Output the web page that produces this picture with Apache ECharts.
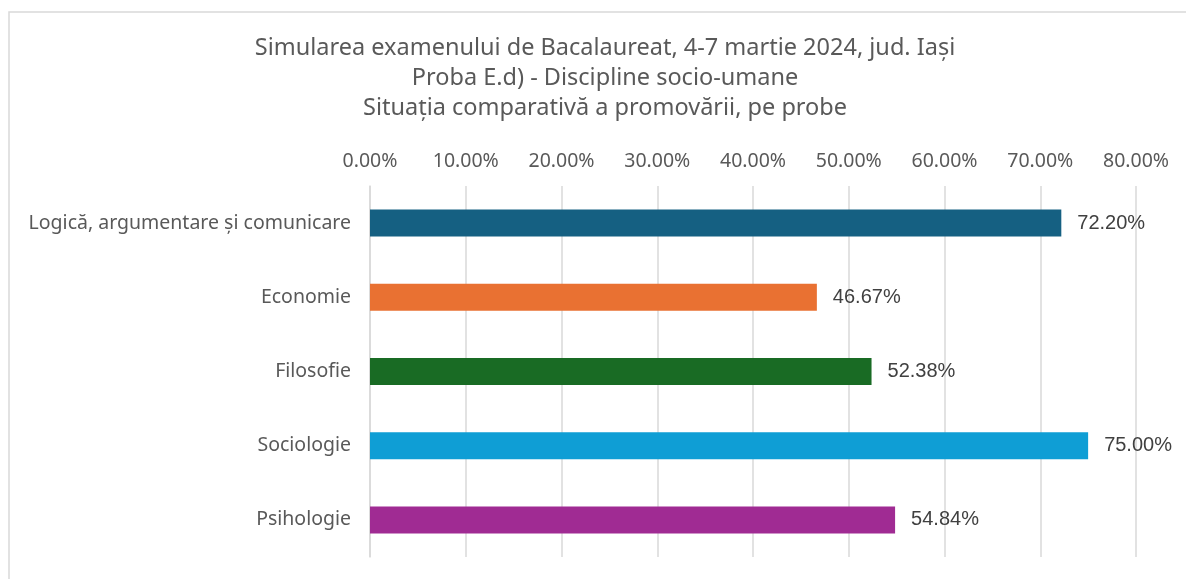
<!DOCTYPE html>
<html>
    <head>
        <meta charset="utf-8">
        <script src="https://cdn.jsdelivr.net/npm/echarts@6/dist/echarts.min.js"></script>
    </head>
    <body style="margin:0">
        <style>
            html, body, #main {
                width: 100%;
                height: 100%;
                background: #fff;
            }
        </style>
        <div id="main"></div>
        <script>
            var categories = [
                'Logică, argumentare și comunicare',
                'Economie',
                'Filosofie',
                'Sociologie',
                'Psihologie'
            ];
            var promovare = [72.20, 46.67, 52.38, 75.00, 54.84];
            var barColors = ['#156082', '#E97132', '#196B24', '#0F9ED5', '#A02B93'];
            var titleLines = [
                'Simularea examenului de Bacalaureat, 4-7 martie 2024, jud. Iași',
                'Proba E.d) - Discipline socio-umane',
                'Situația comparativă a promovării, pe probe'
            ];

            var font = '"Noto Sans", sans-serif';
            var chart = echarts.init(document.getElementById('main'));

            chart.setOption({
                animation: false,
                color: barColors,
                graphic: [{
                    type: 'rect',
                    shape: { x: 9, y: 12, width: 1300, height: 700 },
                    style: { fill: 'none', stroke: '#d9d9d9', lineWidth: 1.5 },
                    silent: true
                }, {
                    // title block, centred a bit right of the canvas like the original
                    type: 'text',
                    x: 605,
                    y: 33,
                    silent: true,
                    style: {
                        text: titleLines.join('\n'),
                        align: 'center',
                        verticalAlign: 'top',
                        fontFamily: font,
                        fontSize: 23.5,
                        lineHeight: 30,
                        fill: '#595959'
                    }
                }],
                grid: {
                    left: 370,
                    right: 50,
                    top: 186,
                    bottom: 22
                },
                xAxis: {
                    type: 'value',
                    position: 'top',
                    min: 0,
                    max: 80,
                    interval: 10,
                    axisLine: { show: false },
                    axisTick: { show: false },
                    splitLine: { lineStyle: { color: '#d9d9d9', width: 1.5 } },
                    axisLabel: {
                        margin: 15,
                        fontFamily: font,
                        fontSize: 19.5,
                        color: '#595959',
                        formatter: function (v) { return v.toFixed(2) + '%'; }
                    }
                },
                yAxis: {
                    type: 'category',
                    inverse: true,
                    data: categories,
                    axisLine: { lineStyle: { color: '#d9d9d9', width: 1.5 } },
                    axisTick: { show: false },
                    axisLabel: {
                        margin: 19,
                        fontFamily: font,
                        fontSize: 19.5,
                        color: '#595959'
                    }
                },
                series: [{
                    type: 'bar',
                    colorBy: 'data',
                    data: promovare,
                    barWidth: 27,
                    label: {
                        show: true,
                        position: 'right',
                        distance: 16,
                        fontFamily: '"Liberation Sans", Arial, sans-serif',
                        fontSize: 20,
                        color: '#404040',
                        formatter: function (p) { return p.value.toFixed(2) + '%'; }
                    }
                }]
            });
        </script>
    </body>
</html>
